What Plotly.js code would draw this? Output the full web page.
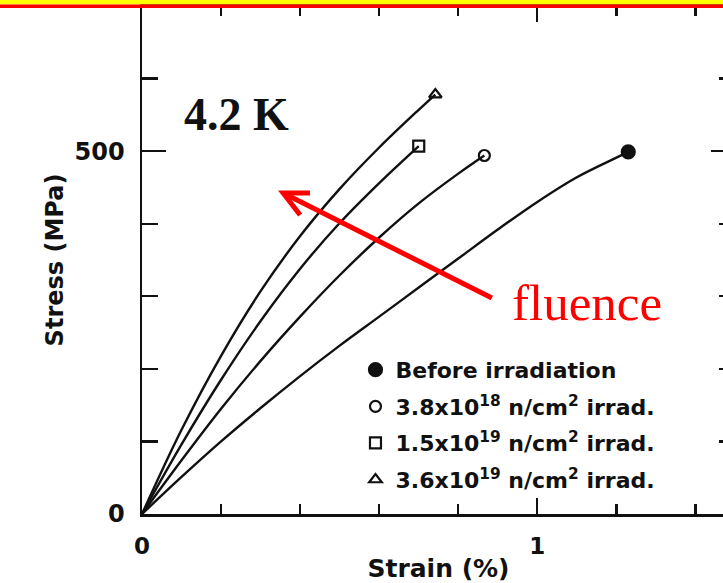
<!DOCTYPE html>
<html>
<head>
<meta charset="utf-8">
<script src="https://cdn.plot.ly/plotly-3.0.1.min.js"></script>
<style>
html, body { margin: 0; padding: 0; overflow: hidden; background: #fff; }
#chart { width: 735px; height: 583px; }
</style>
</head>
<body>
<div id="chart"></div>
<script>
// ---- data ----
const seriesNames = [
  'Before irradiation',
  '3.8x10<sup>18</sup> n/cm<sup>2</sup> irrad.',
  '1.5x10<sup>19</sup> n/cm<sup>2</sup> irrad.',
  '3.6x10<sup>19</sup> n/cm<sup>2</sup> irrad.'
];
const beforeStrain = [0, 0.1, 0.2, 0.3, 0.4, 0.5, 0.6, 0.7, 0.8, 0.9, 1.0, 1.1, 1.2, 1.23];
const beforeStress = [0, 51, 100, 146, 190, 232, 272, 312, 352, 392, 430, 464, 491, 499];
const f38e18Strain = [0, 0.1, 0.2, 0.3, 0.4, 0.5, 0.6, 0.7, 0.8, 0.866];
const f38e18Stress = [0, 74, 145, 211, 272, 329, 381, 428, 469, 494];
const f15e19Strain = [0, 0.1, 0.2, 0.3, 0.4, 0.5, 0.6, 0.7];
const f15e19Stress = [0, 96, 185, 266, 338, 401, 456, 507];
const f36e19Strain = [0, 0.1, 0.2, 0.3, 0.4, 0.5, 0.6, 0.7, 0.742];
const f36e19Stress = [0, 116, 218, 307, 383, 448, 505, 557, 578];
const endSymbols = ['circle', 'circle-open', 'square-open', 'triangle-up-open'];
const xTickVals = [0, 1];
const yTickVals = [0, 500];
const tempLabel = '4.2 K';
const arrowLabel = 'fluence';

const allX = [beforeStrain, f38e18Strain, f15e19Strain, f36e19Strain];
const allY = [beforeStress, f38e18Stress, f15e19Stress, f36e19Stress];

const sansFont = 'DejaVu Sans, Verdana, sans-serif';
const traces = [];
allX.forEach((xs, i) => {
  traces.push({
    x: xs, y: allY[i], mode: 'lines', type: 'scatter',
    line: { color: '#111', width: 2.4, shape: 'spline', smoothing: 1 },
    showlegend: false, hoverinfo: 'skip'
  });
});
allX.forEach((xs, i) => {
  const n = xs.length - 1;
  traces.push({
    x: [xs[n]], y: [allY[i][n]], mode: 'markers', type: 'scatter',
    name: seriesNames[i], legendgroup: 'g' + i,
    marker: { symbol: endSymbols[i], size: i === 0 ? 13 : 11, color: '#111',
              line: { color: '#111', width: 2.2 } },
    showlegend: true
  });
});

const layout = {
  width: 735, height: 583,
  margin: { l: 142, r: 0, t: 6, b: 69 },
  paper_bgcolor: '#fff', plot_bgcolor: '#fff',
  showlegend: true,
  legend: {
    x: 0.36, y: 0.325, xanchor: 'left', yanchor: 'top',
    bgcolor: 'rgba(0,0,0,0)', tracegroupgap: 5, traceorder: 'grouped',
    font: { family: sansFont, size: 22, color: '#111', weight: 'bold' }
  },
  xaxis: {
    range: [0, 1.5], showgrid: false, zeroline: false,
    showline: true, linecolor: '#111', linewidth: 2.5, mirror: 'ticks',
    ticks: 'inside', ticklen: 16, tickwidth: 2.2, tickcolor: '#111',
    tickmode: 'array', tickvals: xTickVals, ticktext: xTickVals.map(String),
    minor: { dtick: 0.2, tick0: 0, ticks: 'inside', ticklen: 10, tickwidth: 2.2, tickcolor: '#111', showgrid: false },
    ticklabelstandoff: 10,
    tickfont: { family: sansFont, size: 23, color: '#111', weight: 'bold' },
    title: { text: 'Strain (%)', standoff: 8, font: { family: sansFont, size: 25, color: '#111', weight: 'bold' } }
  },
  yaxis: {
    range: [0, 700], showgrid: false, zeroline: false,
    showline: true, linecolor: '#111', linewidth: 2.5, mirror: 'ticks',
    ticks: 'inside', ticklen: 24, tickwidth: 2.2, tickcolor: '#111',
    tickmode: 'array', tickvals: yTickVals, ticktext: yTickVals.map(String),
    minor: { dtick: 100, tick0: 0, ticks: 'inside', ticklen: 16, tickwidth: 2.2, tickcolor: '#111', showgrid: false },
    ticklabelstandoff: 10,
    tickfont: { family: sansFont, size: 24, color: '#111', weight: 'bold' },
    title: { text: 'Stress (MPa)', standoff: 4, font: { family: sansFont, size: 24, color: '#111', weight: 'bold' } }
  },
  annotations: [
    { text: tempLabel, xref: 'x', yref: 'y', x: 0.1, y: 551, xanchor: 'left', yanchor: 'middle',
      showarrow: false, font: { family: 'Liberation Serif, serif', size: 46, color: '#111', weight: 'bold' } },
    { text: arrowLabel, xref: 'x', yref: 'y', x: 0.93, y: 291, xanchor: 'left', yanchor: 'middle',
      showarrow: false, font: { family: 'Liberation Serif, serif', size: 51, color: '#ff0000' } }
  ],
  shapes: [
    { type: 'path', xref: 'x', yref: 'y', layer: 'above',
      path: 'M 0.885 297.6 L 0.357 442.3', line: { color: '#ff0000', width: 5 } },
    { type: 'path', xref: 'x', yref: 'y', layer: 'above',
      path: 'M 0.425 442.3 L 0.357 442.3 L 0.400 412', line: { color: '#ff0000', width: 5 } },
    { type: 'rect', xref: 'paper', yref: 'paper', layer: 'above',
      x0: -0.3, x1: 1.1, y0: 1.003, y1: 1.02, fillcolor: '#ffff00', line: { width: 0 } },
    { type: 'rect', xref: 'paper', yref: 'paper', layer: 'above',
      x0: -0.3, x1: 1.1, y0: 0.9962, y1: 1.003, fillcolor: '#ff0000', line: { width: 0 } }
  ]
};

Plotly.newPlot('chart', traces, layout, { displayModeBar: false, staticPlot: true });
</script>
</body>
</html>
